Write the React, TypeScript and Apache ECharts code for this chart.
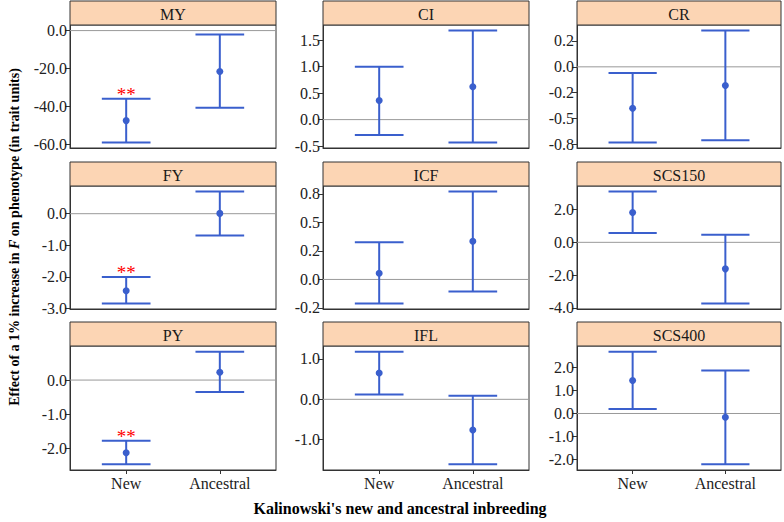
import React, { useEffect, useRef } from "react";
import * as echarts from "echarts";

// ---- data ----
const categories = ["New", "Ancestral"];
const traits = ["MY", "CI", "CR", "FY", "ICF", "SCS150", "PY", "IFL", "SCS400"];

const newMean = [-47.5, 0.36, -0.4, -2.44, 0.055, 1.82, -2.12, 0.65, 1.44];
const newLower = [-59.0, -0.29, -0.73, -2.84, -0.21, 0.57, -2.46, 0.12, 0.2];
const newUpper = [-36.0, 1.0, -0.06, -2.0, 0.325, 3.1, -1.77, 1.18, 2.7];

const ancMean = [-21.6, 0.62, -0.18, 0.01, 0.334, -1.62, 0.23, -0.76, -0.16];
const ancLower = [-40.7, -0.43, -0.71, -0.69, -0.105, -3.73, -0.35, -1.61, -2.22];
const ancUpper = [-2.1, 1.68, 0.35, 0.7, 0.77, 0.47, 0.83, 0.09, 1.88];

const newSignificant = [true, false, false, true, false, false, true, false, false];

const tickValues = [
  [-60, -40, -20, 0],
  [-0.5, 0, 0.5, 1, 1.5],
  [-0.75, -0.5, -0.25, 0, 0.25],
  [-3, -2, -1, 0],
  [-0.25, 0, 0.25, 0.5, 0.75],
  [-4, -2, 0, 2],
  [-2, -1, 0],
  [-1, 0, 1],
  [-2, -1, 0, 1, 2],
];
const tickLabels = [
  ["-60.0", "-40.0", "-20.0", "0.0"],
  ["-0.5", "0.0", "0.5", "1.0", "1.5"],
  ["-0.8", "-0.5", "-0.2", "0.0", "0.2"],
  ["-3.0", "-2.0", "-1.0", "0.0"],
  ["-0.2", "0.0", "0.2", "0.5", "0.8"],
  ["-4.0", "-2.0", "0.0", "2.0"],
  ["-2.0", "-1.0", "0.0"],
  ["-1.0", "0.0", "1.0"],
  ["-2.0", "-1.0", "0.0", "1.0", "2.0"],
];

const yTitleA = "Effect of a 1% increase in ";
const yTitleF = "F";
const yTitleB = " on phenotype (in trait units)";
const xTitle = "Kalinowski's new and ancestral inbreeding";

// ---- layout ----
const colLeft = [70, 323, 577];
const colWidth = [206, 206, 204];
const rowTop = [25, 186, 346];
const rowHeight = [123, 123, 124];
const stripH = 24;
const SERIF = "Liberation Serif";
const BLUE = "#3A5FCD";

const labelRich = {
  s: { fontFamily: SERIF, fontSize: 16, color: "#222" },
};

export default function App() {
  const ref = useRef<HTMLDivElement>(null);

  useEffect(() => {
    if (!ref.current) return;
    const chart = echarts.init(ref.current, undefined, { renderer: "svg" });

    const grids: any[] = [];
    const xAxes: any[] = [];
    const yAxes: any[] = [];
    const series: any[] = [];
    const graphics: any[] = [];

    traits.forEach((name, i) => {
      const c = i % 3;
      const r = Math.floor(i / 3);
      const bottomRow = r === 2;
      const lo = Math.min(newLower[i], ancLower[i], 0);
      const hi = Math.max(newUpper[i], ancUpper[i], 0);
      const pad = (hi - lo) * 0.05;

      grids.push({
        left: colLeft[c],
        top: rowTop[r],
        width: colWidth[c],
        height: rowHeight[r],
        show: true,
        borderColor: "#333",
        borderWidth: 1,
        backgroundColor: "#fff",
      });

      xAxes.push({
        type: "value",
        gridIndex: i,
        min: 0.4,
        max: 2.6,
        splitLine: { show: false },
        axisLine: { show: true, onZero: false, lineStyle: { color: "#333", width: 1 } },
        axisTick: {
          show: bottomRow,
          length: 4,
          customValues: [1, 2],
          lineStyle: { color: "#333" },
        },
        axisLabel: {
          show: bottomRow,
          customValues: [1, 2],
          formatter: (v: number) => `{s|${categories[Math.round(v) - 1] ?? ""}}`,
          fontFamily: SERIF,
          fontSize: 16,
          color: "#222",
          rich: labelRich,
          margin: 5,
        },
      });

      const tv = tickValues[i];
      const tl = tickLabels[i];
      yAxes.push({
        type: "value",
        gridIndex: i,
        min: lo - pad,
        max: hi + pad,
        splitLine: { show: false },
        axisLine: { show: true, onZero: false, lineStyle: { color: "#333", width: 1 } },
        axisTick: {
          show: true,
          length: 5,
          customValues: tv,
          lineStyle: { color: "#333" },
        },
        axisLabel: {
          customValues: tv,
          formatter: (v: number) => {
            const k = tv.findIndex((t) => Math.abs(t - v) < 1e-9);
            return k >= 0 ? `{s|${tl[k]}}` : "";
          },
          fontFamily: SERIF,
          fontSize: 16,
          color: "#222",
          rich: labelRich,
          margin: 3,
        },
      });

      series.push({
        type: "line",
        xAxisIndex: i,
        yAxisIndex: i,
        data: [
          [0.4, 0],
          [2.6, 0],
        ],
        showSymbol: false,
        symbol: "none",
        silent: true,
        lineStyle: { color: "#999", width: 1 },
        z: 1,
      });

      series.push({
        type: "custom",
        xAxisIndex: i,
        yAxisIndex: i,
        z: 5,
        silent: true,
        data: [
          [1, newLower[i], newUpper[i], newMean[i], newSignificant[i] ? 1 : 0],
          [2, ancLower[i], ancUpper[i], ancMean[i], 0],
        ],
        renderItem: (params: any, api: any) => {
          const x = api.value(0);
          const l = api.value(1);
          const u = api.value(2);
          const m = api.value(3);
          const sig = api.value(4);
          const pTop = api.coord([x, u]);
          const pBot = api.coord([x, l]);
          const pM = api.coord([x, m]);
          const half = api.coord([x + 0.26, u])[0] - pTop[0];
          const st = { stroke: BLUE, lineWidth: 2 };
          const children: any[] = [
            { type: "line", shape: { x1: pTop[0], y1: pTop[1], x2: pBot[0], y2: pBot[1] }, style: st },
            { type: "line", shape: { x1: pTop[0] - half, y1: pTop[1], x2: pTop[0] + half, y2: pTop[1] }, style: st },
            { type: "line", shape: { x1: pBot[0] - half, y1: pBot[1], x2: pBot[0] + half, y2: pBot[1] }, style: st },
            { type: "circle", shape: { cx: pM[0], cy: pM[1], r: 3.5 }, style: { fill: BLUE } },
          ];
          if (sig) {
            children.push({
              type: "text",
              x: pTop[0],
              y: pTop[1] + 5,
              style: {
                text: "**",
                fill: "#ff0000",
                fontFamily: SERIF,
                fontSize: 19,
                align: "center",
                verticalAlign: "bottom",
              },
            });
          }
          return { type: "group", children };
        },
      });

      graphics.push({
        type: "rect",
        shape: { x: colLeft[c], y: rowTop[r] - stripH, width: colWidth[c], height: stripH },
        style: { fill: "#FCD5B4", stroke: "#333", lineWidth: 1 },
        z: 10,
      });
      graphics.push({
        type: "text",
        x: colLeft[c] + colWidth[c] / 2,
        y: rowTop[r] - stripH / 2 + 1,
        style: {
          text: name,
          fontFamily: SERIF,
          fontSize: 16,
          fill: "#1a1a1a",
          align: "center",
          verticalAlign: "middle",
        },
        z: 11,
      });
    });

    graphics.push({
      type: "text",
      x: 14,
      y: 237,
      rotation: Math.PI / 2,
      style: {
        text: `{b|${yTitleA}}{i|${yTitleF}}{b|${yTitleB}}`,
        align: "center",
        verticalAlign: "middle",
        rich: {
          b: { fontFamily: SERIF, fontWeight: "bold", fontSize: 14, fill: "#000" },
          i: { fontFamily: SERIF, fontWeight: "bold", fontStyle: "italic", fontSize: 14, fill: "#000" },
        },
      },
    });
    graphics.push({
      type: "text",
      x: 400,
      y: 508,
      style: {
        text: xTitle,
        fontFamily: SERIF,
        fontWeight: "bold",
        fontSize: 16,
        fill: "#000",
        align: "center",
        verticalAlign: "middle",
      },
    });

    chart.setOption({
      animation: false,
      backgroundColor: "#fff",
      textStyle: { fontFamily: SERIF },
      grid: grids,
      xAxis: xAxes,
      yAxis: yAxes,
      series,
      graphic: graphics,
    });

    return () => chart.dispose();
  }, []);

  return (
    <div
      ref={ref}
      style={{ position: "absolute", left: 0, top: 0, width: 784, height: 522 }}
    />
  );
}
